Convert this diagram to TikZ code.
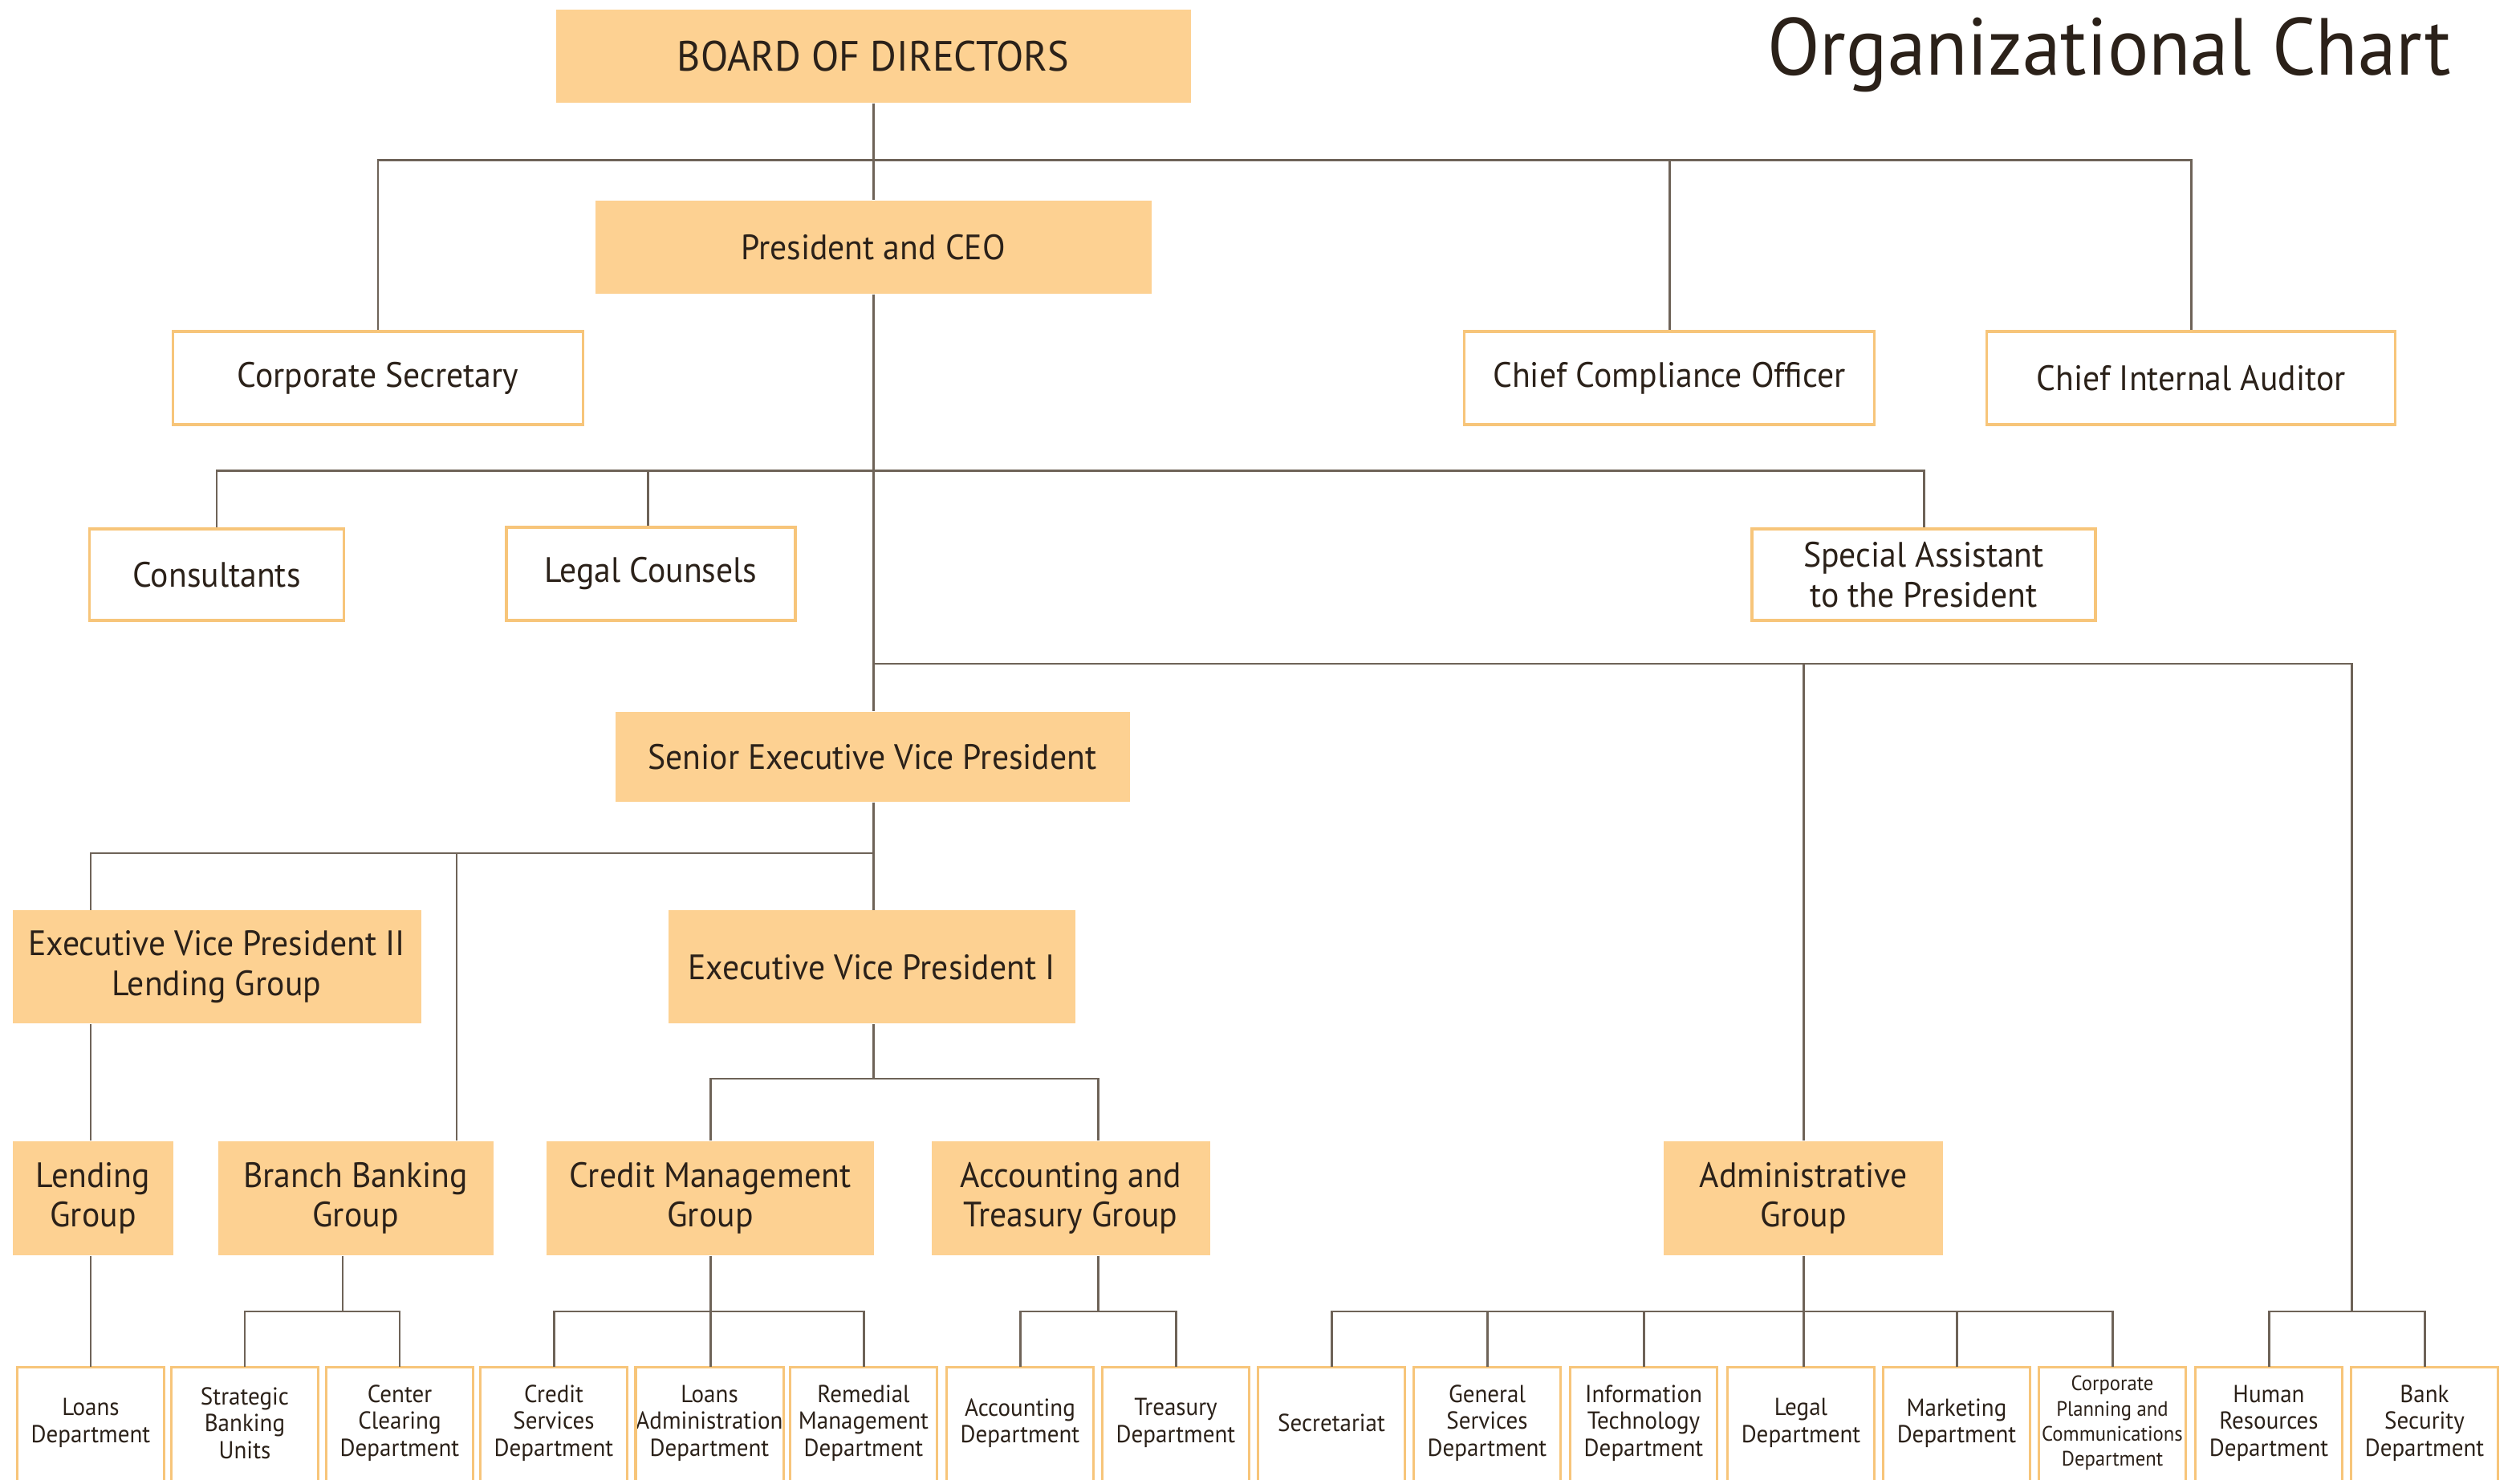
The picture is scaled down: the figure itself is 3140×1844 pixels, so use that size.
\documentclass[tikz,border=0pt]{standalone}
\usepackage{fontspec}
\setmainfont{PT Sans}[FakeStretch=0.95]
\definecolor{orf}{HTML}{FDD192}
\definecolor{orb}{HTML}{F7C57A}
\definecolor{ln}{HTML}{6E6358}
\definecolor{tx}{HTML}{2B2119}
\begin{document}
\begin{tikzpicture}[x=0.1mm,y=-0.1mm,
  base/.style={align=center,text=tx,inner sep=0pt,font=\fontsize{12.5}{14.2}\selectfont},
  fbox/.style={base,fill=orf,draw=none},
  wbox/.style={base,fill=white,draw=orb,line width=1pt},
  gbox/.style={fbox,minimum height=14.2mm,font=\fontsize{12.5}{14}\selectfont},
  dept/.style={base,minimum width=18.2mm,minimum height=13.8mm,font=\fontsize{8.7}{9.5}\selectfont},
  conn/.style={draw=ln,line width=0.85pt},
  obord/.style={draw=orb,line width=1pt}]
\useasboundingbox[fill=white] (0,0) rectangle (3140,1844);

\node[text=tx,anchor=base,font=\fontsize{28.7}{32}\selectfont] (title) at (2628,94) {Organizational Chart};

\node[fbox,minimum width=79.1mm,minimum height=11.6mm,font=\fontsize{15}{17}\selectfont] (board) at (1088,70) {BOARD OF DIRECTORS};
\node[fbox,minimum width=69.3mm,minimum height=11.6mm] (pres) at (1088,308) {President and CEO};
\node[wbox,minimum width=51.1mm,minimum height=11.6mm] (cs) at (471,471) {Corporate Secretary};
\node[wbox,minimum width=51.1mm,minimum height=11.6mm] (cco) at (2080,471) {Chief Compliance Officer};
\node[wbox,minimum width=50.9mm,minimum height=11.6mm] (cia) at (2730,471) {Chief Internal Auditor};
\node[wbox,minimum width=31.7mm,minimum height=11.4mm] (cons) at (270,716) {Consultants};
\node[wbox,minimum width=36mm,minimum height=11.6mm] (legal) at (811,715) {Legal Counsels};
\node[wbox,minimum width=42.8mm,minimum height=11.4mm] (spa) at (2397,716) {Special Assistant\\to the President};
\node[fbox,minimum width=64.1mm,minimum height=11.2mm] (sevp) at (1087,943) {Senior Executive Vice President};
\node[fbox,minimum width=50.9mm,minimum height=14.1mm] (evp2) at (270,1205) {Executive Vice President II\\Lending Group};
\node[fbox,minimum width=50.7mm,minimum height=14.1mm] (evp1) at (1086,1205) {Executive Vice President I};

\node[gbox,minimum width=20mm] (lend) at (116,1493) {Lending\\Group};
\node[gbox,minimum width=34.3mm] (bbg) at (443,1493) {Branch Banking\\Group};
\node[gbox,minimum width=40.8mm] (cmg) at (885,1493) {Credit Management\\Group};
\node[gbox,minimum width=34.7mm] (atg) at (1334,1493) {Accounting and\\Treasury Group};
\node[gbox,minimum width=34.8mm] (adm) at (2247,1493) {Administrative\\Group};

\node[dept] (d0) at (113,1773) {Loans\\Department};
\node[dept] (d1) at (305,1773) {Strategic\\Banking\\Units};
\node[dept] (d2) at (498,1773) {Center\\Clearing\\Department};
\node[dept] (d3) at (690,1773) {Credit\\Services\\Department};
\node[dept] (d4) at (884,1773) {Loans\\Administration\\Department};
\node[dept] (d5) at (1076,1773) {Remedial\\Management\\Department};
\node[dept] (d6) at (1271,1773) {Accounting\\Department};
\node[dept] (d7) at (1465,1773) {Treasury\\Department};
\node[dept] (d8) at (1659,1773) {Secretariat};
\node[dept] (d9) at (1853,1773) {General\\Services\\Department};
\node[dept] (d10) at (2048,1773) {Information\\Technology\\Department};
\node[dept] (d11) at (2244,1773) {Legal\\Department};
\node[dept] (d12) at (2438,1773) {Marketing\\Department};
\node[dept,font=\fontsize{7.4}{8.9}\selectfont] (d13) at (2632,1773) {Corporate\\Planning and\\Communications\\Department};
\node[dept] (d14) at (2827,1773) {Human\\Resources\\Department};
\node[dept] (d15) at (3021,1773) {Bank\\Security\\Department};

\foreach \i in {0,...,15}
  \draw[obord] ([yshift=-3mm]d\i.south west) |- (d\i.north east) -- ([yshift=-3mm]d\i.south east);

% connectors
\coordinate (j1) at (1088,200);
\coordinate (j2) at (1088,587);
\coordinate (j3) at (1088,827);
\coordinate (j3r) at (2930,827);
\coordinate (j4) at (1088,1063);
\coordinate (j4b) at (569,1063);
\coordinate (j5) at (1088,1344);
\coordinate (j5r) at (1368,1344);
\coordinate (lv) at (0,1634);
\coordinate (jb) at (427,1634);
\coordinate (ja) at (1368,1634);
\coordinate (jh) at (2930,1634);

\draw[conn] (board.south) -- (board.south |- pres.north);
\draw[conn] (cs.north) |- (j1) -| (cia.north);
\draw[conn] (cco.north) -- (cco.north |- j1);

\draw[conn] (pres.south) -- (pres.south |- sevp.north);
\draw[conn] (cons.north) |- (j2) -| (spa.north);
\draw[conn] ([xshift=-0.4mm]legal.north) -- ([xshift=-0.4mm]legal.north |- j2);

\draw[conn] (j3) -- (j3r) -- (jh);
\draw[conn] (adm.north) -- (adm.north |- j3);
\draw[conn] (d14.north) |- (jh) -| (d15.north);

\draw[conn] (sevp.south -| j4) -- (evp1.north -| j4);
\draw[conn] (evp2.north -| d0.north) |- (j4);
\draw[conn] (j4b) -- (j4b |- bbg.north);
\draw[conn] (evp2.south -| d0.north) -- (lend.north -| d0.north);

\draw[conn] (evp1.south -| j5) -- (j5);
\draw[conn] (cmg.north) |- (j5r) -- (j5r |- atg.north);

\draw[conn] (lend.south -| d0.north) -- (d0.north);
\draw[conn] (jb |- bbg.south) -- (jb);
\draw[conn] (d1.north) |- (jb) -| (d2.north);
\draw[conn] (cmg.south) -- (cmg.south |- d4.north);
\draw[conn] (d3.north) |- (cmg.south |- lv) -| (d5.north);
\draw[conn] (ja |- atg.south) -- (ja);
\draw[conn] (d6.north) |- (ja) -| (d7.north);
\draw[conn] (adm.south) -- (adm.south |- d11.north);
\draw[conn] (d8.north) |- (adm.south |- lv) -| (d13.north);
\draw[conn] (d9.north) -- (d9.north |- lv);
\draw[conn] (d10.north) -- (d10.north |- lv);
\draw[conn] (d12.north) -- (d12.north |- lv);
\end{tikzpicture}
\end{document}
